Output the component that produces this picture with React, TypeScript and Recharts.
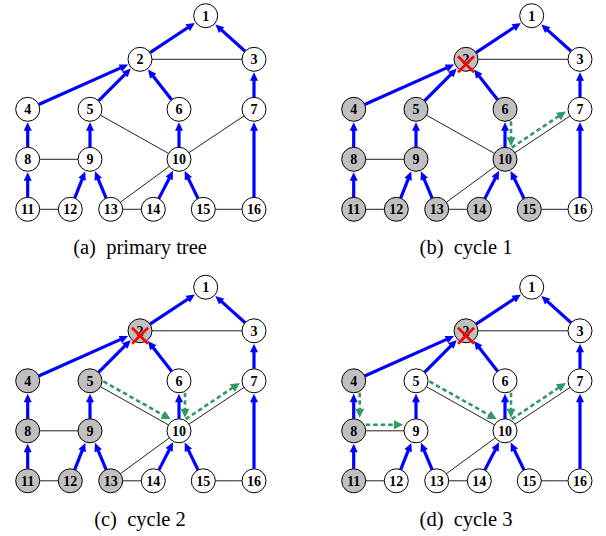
import React from 'react'
import { ScatterChart, Scatter, XAxis, YAxis, ReferenceLine } from 'recharts'

// node layout of one panel (panel (a) coordinates, y grows downward)
const nodeIds = [1, 2, 3, 4, 5, 6, 7, 8, 9, 10, 11, 12, 13, 14, 15, 16]
const nodeX = [205.7, 140, 254, 27.7, 90, 179, 254, 27.7, 90, 179, 27.7, 70.3, 110.7, 153.3, 203.3, 254]
const nodeY = [15.7, 59.3, 59.3, 109.3, 109.3, 109.3, 109.3, 159.3, 159.3, 159.3, 209.3, 209.3, 209.3, 209.3, 209.3, 209.3]

// child -> parent edges of the primary tree
const treeEdges: [number, number][] = [
  [2, 1], [3, 1], [4, 2], [5, 2], [6, 2], [7, 3], [8, 4], [9, 5],
  [10, 6], [16, 7], [11, 8], [12, 9], [13, 9], [14, 10], [15, 10],
]
// other links
const crossEdges: [number, number][] = [
  [2, 3], [5, 10], [7, 10], [8, 9], [10, 13], [11, 12], [13, 14], [15, 16],
]

const panelLetters = ['a', 'b', 'c', 'd']
const panelCaptions = ['primary tree', 'cycle 1', 'cycle 2', 'cycle 3']
const panelDx = [0, 326, 0, 326]
const panelDy = [0, 0, 271.5, 271.5]
const captionX = [140, 466, 140, 466]
const captionY = [254, 254, 525.5, 525.5]

const grayNodes = [
  [],
  [2, 4, 5, 6, 8, 9, 10, 11, 12, 13, 14, 15],
  [2, 4, 5, 8, 9, 11, 12, 13],
  [2, 4, 8, 11],
]
const failedNodes = [[], [2], [2], [2]]
const greenArrows: [number, number][][] = [
  [],
  [[6, 10], [10, 7]],
  [[5, 10], [6, 10], [10, 7]],
  [[4, 8], [8, 9], [5, 10], [6, 10], [10, 7]],
]

const R = 12
const BLUE = '#0000ff'
const GREEN = '#2f9a63'
const SERIF = '"Liberation Serif", "Times New Roman", serif'

type EdgeKind = 'tree' | 'cross' | 'green'

function Edge(props: any) {
  const { x1, y1, x2, y2, kind } = props as {
    x1: number; y1: number; x2: number; y2: number; kind: EdgeKind
  }
  const dx = x2 - x1
  const dy = y2 - y1
  const len = Math.hypot(dx, dy) || 1
  const ux = dx / len
  const uy = dy / len
  // left-hand side of the direction of travel
  const off = kind === 'green' ? 6 : 0
  const px = uy * off
  const py = -ux * off
  const s0 = kind === 'green' ? 12 : R
  const s1 = kind === 'cross' ? R : 13
  const sx = x1 + ux * s0 + px
  const sy = y1 + uy * s0 + py
  const ex = x2 - ux * s1 + px
  const ey = y2 - uy * s1 + py

  if (kind === 'cross') {
    return <line x1={sx} y1={sy} x2={ex} y2={ey} stroke="#222" strokeWidth={1} />
  }

  const color = kind === 'tree' ? BLUE : GREEN
  const headLen = kind === 'tree' ? 8.5 : 9
  const hw = kind === 'tree' ? 4 : 4.5
  const bx = ex - ux * headLen
  const by = ey - uy * headLen
  const pts = [
    `${ex},${ey}`,
    `${bx + uy * hw},${by - ux * hw}`,
    `${bx - uy * hw},${by + ux * hw}`,
  ].join(' ')
  return (
    <g>
      <line
        x1={sx}
        y1={sy}
        x2={ex - ux * headLen * 0.6}
        y2={ey - uy * headLen * 0.6}
        stroke={color}
        strokeWidth={kind === 'tree' ? 3.2 : 2.6}
        strokeDasharray={kind === 'green' ? '4.5 3' : undefined}
      />
      <polygon points={pts} fill={color} />
    </g>
  )
}

function NodeShape(props: any) {
  const { cx, cy, payload } = props
  return (
    <g>
      <circle cx={cx} cy={cy} r={R} fill={payload.gray ? '#c0c0c0' : '#ffffff'} stroke="#000" strokeWidth={1} />
      <text
        x={cx}
        y={cy + 5}
        textAnchor="middle"
        fontFamily={SERIF}
        fontWeight="bold"
        fontSize={14}
        fill="#000"
      >
        {payload.id}
      </text>
      {payload.failed && (
        <g stroke="#ff0000" strokeWidth={2.7} strokeLinecap="butt">
          <line x1={cx - 8} y1={cy - 3} x2={cx + 8} y2={cy + 13} />
          <line x1={cx + 8} y1={cy - 3} x2={cx - 8} y2={cy + 13} />
        </g>
      )}
    </g>
  )
}

function CaptionShape(props: any) {
  const { cx, cy, payload } = props
  return (
    <text x={cx} y={cy} textAnchor="middle" fontFamily={SERIF} fontSize={20.5} fill="#000">
      {`(${payload.letter})\u00a0\u00a0${payload.caption}`}
    </text>
  )
}

const pos = (p: number, id: number) => {
  const i = nodeIds.indexOf(id)
  return { x: nodeX[i] + panelDx[p], y: nodeY[i] + panelDy[p] }
}

export default function App() {
  const panels = [0, 1, 2, 3]
  const captions = panels.map((p) => ({
    x: captionX[p],
    y: captionY[p],
    letter: panelLetters[p],
    caption: panelCaptions[p],
  }))

  const lines: React.ReactNode[] = []
  panels.forEach((p) => {
    crossEdges.forEach(([a, b]) => {
      lines.push(
        <ReferenceLine
          key={`c${p}-${a}-${b}`}
          segment={[pos(p, a), pos(p, b)]}
          shape={(lp: any) => <Edge {...lp} kind="cross" />}
        />
      )
    })
    treeEdges.forEach(([a, b]) => {
      lines.push(
        <ReferenceLine
          key={`t${p}-${a}-${b}`}
          segment={[pos(p, a), pos(p, b)]}
          shape={(lp: any) => <Edge {...lp} kind="tree" />}
        />
      )
    })
    greenArrows[p].forEach(([a, b]) => {
      lines.push(
        <ReferenceLine
          key={`g${p}-${a}-${b}`}
          segment={[pos(p, a), pos(p, b)]}
          shape={(lp: any) => <Edge {...lp} kind="green" />}
        />
      )
    })
  })

  return (
    <div style={{ position: 'absolute', left: 0, top: 0, width: 606, height: 536, background: '#fff' }}>
      <ScatterChart width={606} height={536} margin={{ top: 0, right: 0, bottom: 0, left: 0 }}>
        <XAxis type="number" dataKey="x" domain={[0, 606]} allowDataOverflow hide />
        <YAxis type="number" dataKey="y" domain={[0, 536]} reversed allowDataOverflow hide />
        {lines}
        {panels.map((p) => (
          <Scatter
            key={`n${p}`}
            name={`panel ${panelLetters[p]}`}
            data={nodeIds.map((id) => ({
              ...pos(p, id),
              id,
              gray: grayNodes[p].includes(id),
              failed: failedNodes[p].includes(id),
            }))}
            shape={NodeShape}
            isAnimationActive={false}
          />
        ))}
        <Scatter name="captions" data={captions} shape={CaptionShape} isAnimationActive={false} />
      </ScatterChart>
    </div>
  )
}
